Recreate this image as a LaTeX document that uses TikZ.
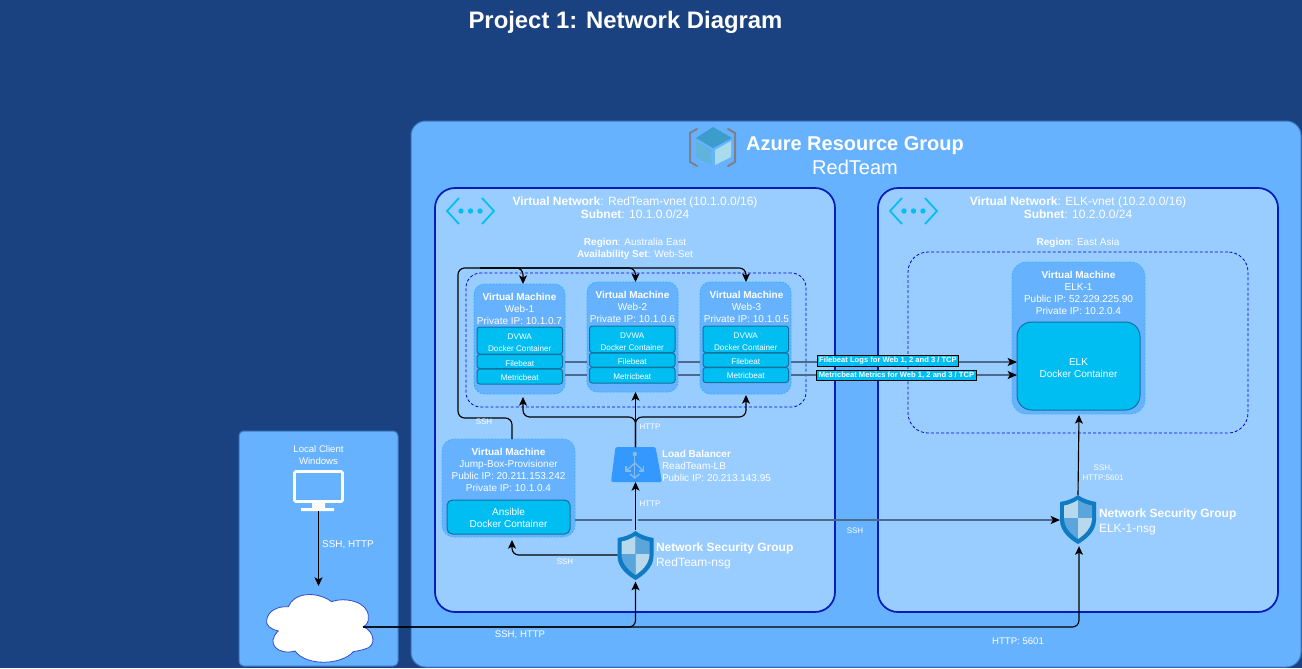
\documentclass[tikz,border=0pt]{standalone}
\usepackage{fontspec}
\setmainfont{Liberation Sans}
\usetikzlibrary{arrows.meta,calc}
\definecolor{bgc}{HTML}{1A4180}
\definecolor{grp}{HTML}{66B2FF}
\definecolor{vnetc}{HTML}{99CCFF}
\definecolor{vnetb}{HTML}{001DBC}
\definecolor{dock}{HTML}{00BEF2}
\definecolor{dockb}{HTML}{10739E}
\definecolor{vmb}{HTML}{2FB4F0}
\definecolor{lnk}{HTML}{4C6A8F}
\definecolor{lbc}{HTML}{3399FF}
\definecolor{lbi}{HTML}{87BBEA}
\definecolor{shO}{HTML}{0F7BC4}
\definecolor{shL}{HTML}{B8D8EC}
\definecolor{shD}{HTML}{5AA5DC}
\definecolor{cubeT}{HTML}{3C9DCC}
\definecolor{cubeL}{HTML}{5FB4DC}
\definecolor{cubeR}{HTML}{A8DCEC}
\definecolor{brk}{HTML}{7F7F8A}
\tikzset{
  tx/.style={text=white,inner sep=0pt,outer sep=0pt},
  f8/.style={tx,font=\fontsize{6}{7.6}\selectfont,align=center},
  f10/.style={tx,font=\fontsize{7.5}{9}\selectfont,align=center},
  f10l/.style={tx,font=\fontsize{7.5}{9}\selectfont,align=left},
  f12/.style={tx,font=\fontsize{9}{10}\selectfont,align=center},
  f12l/.style={tx,font=\fontsize{9}{11.2}\selectfont,align=left},
  f20/.style={tx,font=\fontsize{15}{18}\selectfont,align=center},
  bare/.style={inner sep=0pt,outer sep=0pt},
  panel/.style={bare,fill=grp,draw=#1,line width=.75pt},
  vnetbox/.style={bare,fill=vnetc,draw=vnetb,line width=1.3pt,rounded corners=15pt},
  zone/.style={bare,draw=blue!85!black,line width=.6pt,dash pattern=on 2.2pt off 1.6pt},
  vmbox/.style={bare,fill=grp,draw=vmb,line width=.6pt,dash pattern=on 1.5pt off 1pt,rounded corners=8pt},
  dockbox/.style={bare,fill=dock,draw=dockb,line width=.75pt,text=white,font=\fontsize{6.1}{9}\selectfont,align=center,rounded corners=#1},
  dockbox/.default=2pt,
  conn/.style={draw=black,line width=.85pt,rounded corners=5pt},
  arr/.style={conn,-{Stealth[length=6.5pt,width=6pt,inset=1.6pt]}},
  beat/.style={draw=lnk,line width=1.1pt},
  beatarr/.style={beat,-{Stealth[length=7pt,width=6pt,inset=1.6pt,color=black]}},
  tag/.style={bare,fill=dock,draw=black,line width=.8pt,text=white,font=\fontsize{5.7}{7}\selectfont\bfseries,minimum height=7.8pt,inner xsep=1.2pt},
}
\newcommand{\dn}[1]{\rule{0pt}{#1}}
\newcommand{\bx}[7][]{\node[#1,minimum width={(#5-#3)*0.75pt},minimum height={(#6-#4)*0.75pt}] (#2) at ({(#3+#5)/2},{(#4+#6)/2}) {#7};}
\newcommand{\shieldat}[2]{%
 \begin{scope}[shift={(#1,#2)}]
  \fill[shO] (18,0) .. controls (23,4) and (30,6) .. (36,7) -- (36,25) .. controls (36,37) and (25,45) .. (18,49) .. controls (11,45) and (0,37) .. (0,25) -- (0,7) .. controls (6,6) and (13,4) .. (18,0) -- cycle;
  \fill[shL] (18,5) .. controls (13,8) and (8,10) .. (4,10.5) -- (4,23) -- (18,23) -- cycle;
  \fill[shD] (18,5) .. controls (23,8) and (28,10) .. (32,10.5) -- (32,23) -- (18,23) -- cycle;
  \fill[shD] (4,23) .. controls (4,33) and (12,40) .. (18,44) -- (18,23) -- cycle;
  \fill[shL] (32,23) .. controls (32,33) and (24,40) .. (18,44) -- (18,23) -- cycle;
 \end{scope}}
\newcommand{\vneticon}[1]{%
 \begin{scope}[shift={(#1,0)}]
  \draw[dock,line width=1.3pt] (459,198) -- (447,211) -- (459,224);
  \draw[dock,line width=1.3pt] (482,198) -- (494,211) -- (482,224);
  \fill[dock] (461,211) circle (2pt) (470.5,211) circle (2pt) (480,211) circle (2pt);
 \end{scope}}
\begin{document}
\begin{tikzpicture}[x=0.75pt,y=-0.75pt]
\useasboundingbox (0,0) rectangle (1302,668);
\fill[bgc] (0,0) rectangle (1302,668);
\node[tx,font=\fontsize{17.9}{20}\selectfont\bfseries] (title) at (625.5,22.5) {Project 1: Network Diagram};

% containers
\bx[panel=bgc!50!grp,rounded corners=3.5pt]{client}{239}{431}{398}{666}{}
\bx[panel=bgc!50!grp,rounded corners=11pt]{azure}{411}{121}{1301}{667}{}
\bx[vnetbox]{vnetA}{435}{188}{835}{612}{}
\bx[vnetbox]{vnetB}{878}{188}{1278}{612}{}
\bx[zone,rounded corners=11pt]{setA}{466}{273}{806}{407}{}
\bx[zone,rounded corners=15pt]{setB}{908}{252}{1248}{433}{}

% azure icon
\draw[brk,line width=1.5pt,line cap=round] (697,129) -- (690,133) -- (690,162) -- (697,166);
\draw[brk,line width=1.5pt,line cap=round] (728,129) -- (735,133) -- (735,162) -- (728,166);
\fill[cubeT] (713,127) -- (732,138) -- (713,148) -- (696,138) -- cycle;
\fill[cubeL] (696,141) -- (711.5,150) -- (711.5,165) -- (696,157) -- cycle;
\fill[cubeR] (715,150) -- (731,141) -- (731,157) -- (715,165) -- cycle;
\node[f20] (azuret) at (855,156) {\textbf{Azure Resource Group}\\RedTeam};

% vnet labels
\vneticon{0}
\vneticon{443}
\node[f12] (vat) at (635,207.5) {\textbf{Virtual Network}: RedTeam-vnet (10.1.0.0/16)\\\textbf{Subnet}: 10.1.0.0/24};
\node[f12] (vbt) at (1078,207.5) {\textbf{Virtual Network}: ELK-vnet (10.2.0.0/16)\\\textbf{Subnet}: 10.2.0.0/24};
\node[f8,font=\fontsize{7.5}{9}\selectfont] (rega) at (635,248.5) {\textbf{Region}: Australia East\\\textbf{Availability Set}: Web-Set};
\node[f8,font=\fontsize{7.5}{9}\selectfont] (regb) at (1078,243) {\textbf{Region}: East Asia};

% web VMs
\bx[vmbox]{web1}{474}{284}{565}{394}{}
\bx[vmbox]{web2}{587}{282}{678}{392}{}
\bx[vmbox]{web3}{700}{282}{791}{394}{}
\node[f10] (w1t) at (519.5,309) {\textbf{Virtual Machine}\\Web-1\\Private IP: 10.1.0.7};
\node[f10] (w2t) at (632.5,307) {\textbf{Virtual Machine}\\Web-2\\Private IP: 10.1.0.6};
\node[f10] (w3t) at (746.5,307) {\textbf{Virtual Machine}\\Web-3\\Private IP: 10.1.0.5};
\bx[dockbox]{d1}{477}{327}{562.5}{354}{\dn{8pt}DVWA\\Docker Container}
\bx[dockbox]{f1}{477}{354.5}{562.5}{368.5}{\dn{7pt}Filebeat}
\bx[dockbox]{m1}{477}{369}{562.5}{384}{\dn{6pt}Metricbeat}
\bx[dockbox]{d2}{589.5}{326}{675}{352.5}{\dn{8pt}DVWA\\Docker Container}
\bx[dockbox]{f2}{589.5}{353}{675}{367}{\dn{7pt}Filebeat}
\bx[dockbox]{m2}{589.5}{367.5}{675}{383}{\dn{6pt}Metricbeat}
\bx[dockbox]{d3}{703}{326}{788.5}{352.5}{\dn{8pt}DVWA\\Docker Container}
\bx[dockbox]{f3}{703}{353}{788.5}{367}{\dn{7pt}Filebeat}
\bx[dockbox]{m3}{703}{367.5}{788.5}{382.5}{\dn{6pt}Metricbeat}

% jump box
\bx[vmbox,draw=vmb!60!grp,rounded corners=9pt]{jump}{442}{439}{575}{537}{}
\node[f10] (jt) at (508.5,470) {\textbf{Virtual Machine}\\Jump-Box-Provisioner\\Public IP: 20.211.153.242\\Private IP: 10.1.0.4};
\bx[dockbox=4pt,font=\fontsize{7.5}{9}\selectfont]{ans}{447}{500}{570}{534}{\dn{7pt}Ansible\\Docker Container}

% ELK VM
\bx[vmbox,draw=vmb!60!grp,rounded corners=11pt]{elk}{1012}{262}{1145}{414}{}
\node[f10] (et) at (1078.5,293) {\textbf{Virtual Machine}\\ELK-1\\Public IP: 52.229.225.90\\Private IP: 10.2.0.4};
\bx[dockbox=11pt,font=\fontsize{7.5}{9}\selectfont]{elkd}{1017}{322}{1140}{410}{\dn{8pt}ELK\\Docker Container}

% load balancer
\node[bare,minimum width=38.25pt,minimum height=26.25pt] (lb) at (635.5,464.5) {};
\fill[lbc,rounded corners=1.2pt] (615.5,447) -- (655.5,447) -- (662,482) -- (611,482) -- cycle;
\fill[lbi] (634.8,454) circle (2.2);
\draw[lbi,line width=1pt] (634.8,454) -- (634.8,478);
\draw[lbi,line width=1pt] (634.8,463) -- (626,471) (634.8,463) -- (643.5,471);
\draw[lbi,line width=1pt] (630,474) -- (634.8,478) -- (639.5,474);
\draw[lbi,line width=1pt] (626,466) -- (626,471) -- (631,471);
\draw[lbi,line width=1pt] (643.5,466) -- (643.5,471) -- (638.5,471);
\node[f10l,anchor=west] (lbt) at (662,465.5) {\textbf{Load Balancer}\\ReadTeam-LB\\Public IP: 20.213.143.95};

% security groups
\node[bare,minimum width=27pt,minimum height=37pt] (nsgA) at (635.5,555) {};
\shieldat{617.5}{531}
\node[f12l,anchor=west] (nsgAt) at (656,555.5) {\textbf{Network Security Group}\\RedTeam-nsg};
\node[bare,minimum width=27pt,minimum height=37pt] (nsgB) at (1078,519.5) {};
\shieldat{1060}{495}
\node[f12l,anchor=west] (nsgBt) at (1099,521.5) {\textbf{Network Security Group}\\ELK-1-nsg};

% client
\node[bare,minimum width=38pt,minimum height=31pt] (pc) at (318.5,490.5) {};
\draw[white,line width=2pt,rounded corners=1pt] (294.5,471.5) rectangle (342.5,501.5);
\fill[white] (312,502) rectangle (325,508) (301,508) rectangle (334,511);
\node[f10,font=\fontsize{7.2}{9}\selectfont] (ct) at (318.5,455.5) {Local Client\\Windows};
\node[bare,minimum width=81pt,minimum height=52pt] (cloud) at (320,628) {};
\begin{scope}[shift={(235,425)},x=0.25pt,y=-0.25pt]
\draw[fill=white,draw=vnetb!80!white,line width=.6pt]
 (95,585) .. controls (98,560) and (125,543) .. (160,545)
 .. controls (175,505) and (240,495) .. (290,530)
 .. controls (330,515) and (400,530) .. (400,575)
 .. controls (402,590) and (395,600) .. (385,605)
 .. controls (420,620) and (425,665) .. (390,672)
 .. controls (378,676) and (365,678) .. (355,680)
 .. controls (320,720) and (215,725) .. (180,678)
 .. controls (130,692) and (90,655) .. (130,618)
 .. controls (105,612) and (92,600) .. (95,585) -- cycle;
\end{scope}

% connectors
\coordinate (sshOut) at (512,439);
\coordinate (sshLow) at (458,418);
\coordinate (sshTop) at (458,268);
\coordinate (sshRun) at (480,268);
\coordinate (w1in) at ([shift={(3.5,0)}]web1.north);
\coordinate (w2in) at ([shift={(3,0)}]web2.north);
\coordinate (w3in) at (746,282);
\draw[arr] (sshOut) |- (sshLow) -- (sshTop) -| (w1in);
\draw[arr] (sshRun) -| (w2in);
\draw[arr] (sshRun) -| (w3in);
\coordinate (httpFork) at (635.5,417);
\draw[arr] (lb.north) -- ($(web2.south)+(3,0)$);
\draw[arr] (lb.north) -- (httpFork) -| ($(web1.south)+(3.5,3)$);
\draw[arr] (lb.north) -- (httpFork) -| ($(web3.south)+(0.5,1)$);
\draw[arr] (nsgA.north) -- (lb.south);
\draw[arr] (nsgA.west) -| ([shift={(3.5,3)}]jump.south);
\draw[arr] (pc.south) -- (318.5,586);
\coordinate (cloudE) at (363,627);
\draw[arr] (cloudE) -| ($(nsgA.south)+(0,2)$);
\draw[arr] (cloudE) -| ($(nsgB.south)+(1,2)$);
\draw[arr] (nsgB.north) -- ($(elk.south)+(0.5,1)$);
\coordinate (gapL) at (632,520);
\coordinate (gapR) at (638,520);
\draw[beat] (jump.east |- gapL) -- (gapL);
\draw[beatarr] (gapR) -- (nsgB.west |- gapR);
\draw[beat] (web1.east |- 0,362) -- (web2.west |- 0,362);
\draw[beat] (web2.east |- 0,362) -- (web3.west |- 0,362);
\draw[beatarr] (web3.east |- 0,362) -- (elkd.west |- 0,362);
\draw[beat] (web1.east |- 0,375) -- (web2.west |- 0,375);
\draw[beat] (web2.east |- 0,375) -- (web3.west |- 0,375);
\draw[beatarr] (web3.east |- 0,375) -- (elkd.west |- 0,375);

% connector labels
\node[tag,minimum width=105.5pt] (tagF) at (888,361) {Filebeat Logs for Web 1, 2 and 3 / TCP};
\node[tag,minimum width=119.5pt] (tagM) at (896.5,375.5) {Metricbeat Metrics for Web 1, 2 and 3 / TCP};
\node[f8] (l1) at (484,422) {SSH};
\node[f8] (l2) at (650,426.5) {HTTP};
\node[f8] (l3) at (650,504) {HTTP};
\node[f8] (l4) at (565,562) {SSH};
\node[f8] (l5) at (855,531) {SSH};
\node[f8] (l6) at (1103,473) {SSH,\\HTTP:5601};
\node[f10,font=\fontsize{7.4}{9}\selectfont] (l7) at (348,545) {SSH, HTTP};
\node[f10,font=\fontsize{7.2}{9}\selectfont] (l8) at (520,635) {SSH, HTTP};
\node[f10,font=\fontsize{7.2}{9}\selectfont] (l9) at (1018,641) {HTTP: 5601};
\end{tikzpicture}
\end{document}
